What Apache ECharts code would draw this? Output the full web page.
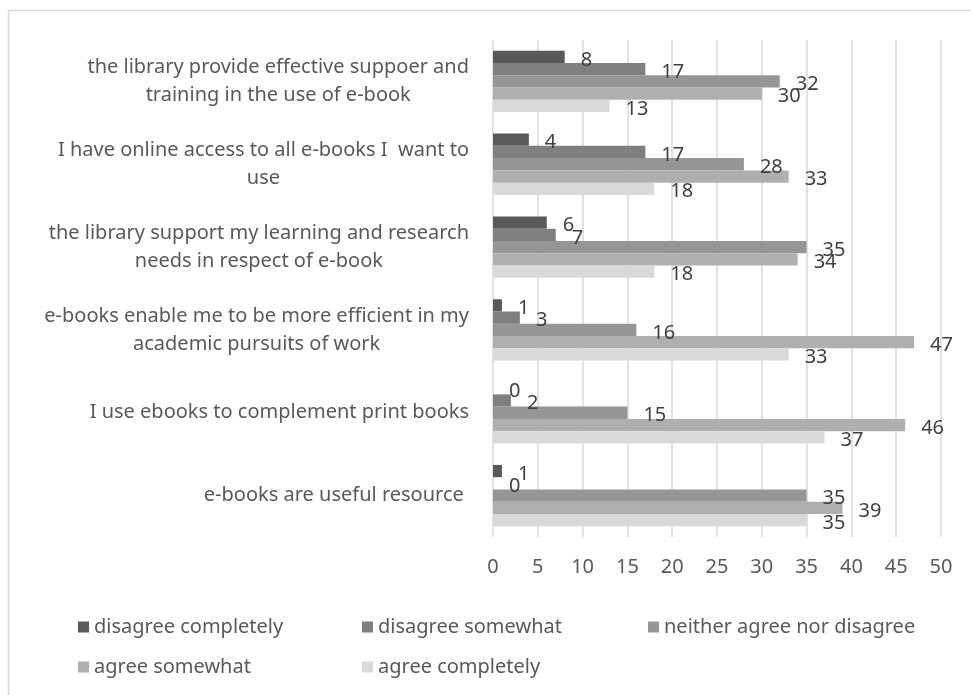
<!DOCTYPE html>
<html>
<head>
<meta charset="utf-8">
<script src="https://cdn.jsdelivr.net/npm/echarts@6/dist/echarts.min.js"></script>
<style>html,body{margin:0;padding:0;background:#fff}#c{width:971px;height:695px}</style>
</head>
<body>
<div id="c"></div>
<script>
const categories = [
  "the library provide effective suppoer and\ntraining in the use of e-book",
  "I have online access to all e-books I  want to\nuse",
  "the library support my learning and research\nneeds in respect of e-book",
  "e-books enable me to be more efficient in my\nacademic pursuits of work",
  "I use ebooks to complement print books",
  "e-books are useful resource "
];
const seriesNames = ["disagree completely","disagree somewhat","neither agree nor disagree","agree somewhat","agree completely"];
const disagreeCompletely = [8, 4, 6, 1, 0, 1];
const disagreeSomewhat   = [17, 17, 7, 3, 2, 0];
const neither            = [32, 28, 35, 16, 15, 35];
const agreeSomewhat      = [30, 33, 34, 47, 46, 39];
const agreeCompletely    = [13, 18, 18, 33, 37, 35];
const xTicks = [0,5,10,15,20,25,30,35,40,45,50];

const colors = ["#595959","#7f7f7f","#969696","#afafaf","#d9d9d9"];
const values = [disagreeCompletely, disagreeSomewhat, neither, agreeSomewhat, agreeCompletely];
const FONT = "Noto Sans";
const legendPos = [[78,617],[362,617],[648,617],[78,657],[362,657]];

const chart = echarts.init(document.getElementById('c'));
chart.setOption({
  animation: false,
  backgroundColor: '#fff',
  textStyle: {fontFamily: FONT},
  graphic: [{
    type: 'rect', shape: {x: 8.5, y: 10.5, width: 990, height: 720},
    style: {fill: 'none', stroke: '#d9d9d9', lineWidth: 1.5}, silent: true, z: -10
  }],
  grid: {left: 493, right: 30, top: 40, bottom: 158, containLabel: false},
  xAxis: {
    type: 'value', min: 0, max: 50, interval: 5,
    axisLine: {show: false}, axisTick: {show: false},
    axisLabel: {color: '#595959', fontSize: 20, margin: 20, fontFamily: FONT,
      formatter: v => xTicks.includes(v) ? String(v) : ''},
    splitLine: {lineStyle: {color: '#d9d9d9', width: 1.5}}
  },
  yAxis: {
    type: 'category', data: categories, inverse: true,
    axisLine: {show: false}, axisTick: {show: false},
    axisLabel: {
      margin: 24, align: 'right',
      formatter: v => '{c|' + v.split('\n').join('}\n{c|') + '}',
      rich: {c: {align: 'center', color: '#595959', fontSize: 20, lineHeight: 28, fontFamily: FONT}}
    }
  },
  legend: seriesNames.map((n, i) => ({
    data: [n], left: legendPos[i][0], top: legendPos[i][1], padding: 0,
    itemWidth: 11, itemHeight: 11, itemGap: 6, icon: 'rect',
    textStyle: {color: '#595959', fontSize: 20, fontFamily: FONT}
  })),
  series: seriesNames.map((n, i) => ({
    name: n, type: 'bar', data: values[i],
    barGap: '0%', barCategoryGap: '26%',
    itemStyle: {color: colors[i]},
    label: {show: true, position: 'right', distance: 16, offset: [0, 3],
      color: '#404040', fontSize: 20, fontFamily: FONT}
  }))
});
</script>
</body>
</html>
